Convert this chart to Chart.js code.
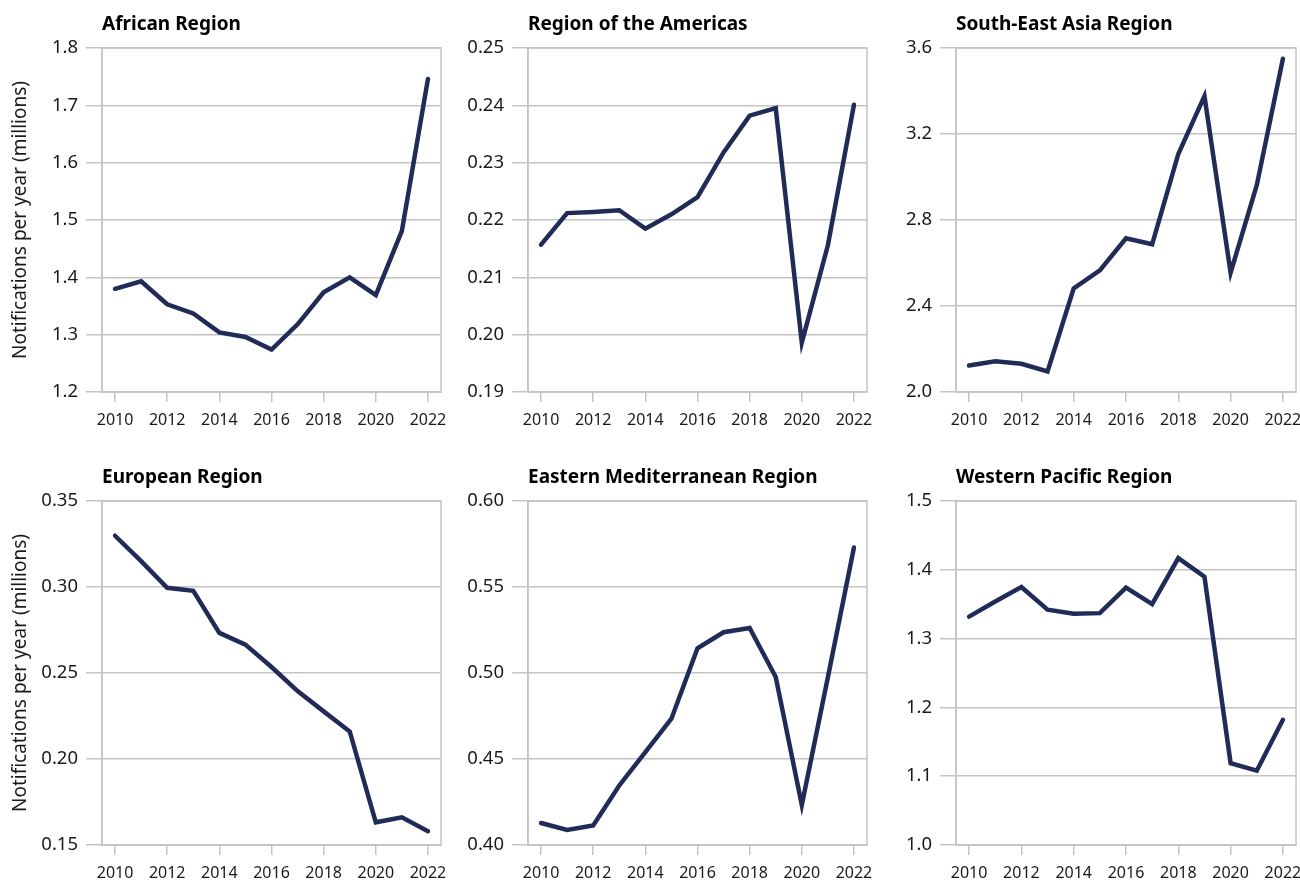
<!DOCTYPE html>
<html>
<head>
<meta charset="utf-8">
<script src="https://cdn.jsdelivr.net/npm/chart.js@4.4.1/dist/chart.umd.min.js"></script>
<style>
  html, body { margin: 0; padding: 0; background: #fff; overflow: hidden; }
  body { width: 1300px; height: 882px; position: relative; }
  canvas { position: absolute; }
</style>
</head>
<body>
<canvas id="c0"></canvas>
<canvas id="c1"></canvas>
<canvas id="c2"></canvas>
<canvas id="c3"></canvas>
<canvas id="c4"></canvas>
<canvas id="c5"></canvas>
<script>
// data (millions of notifications per year)
const years = [2010, 2011, 2012, 2013, 2014, 2015, 2016, 2017, 2018, 2019, 2020, 2021, 2022];
const xTickLabels = ['2010', '2012', '2014', '2016', '2018', '2020', '2022'];

const africanValues = [1.380, 1.393, 1.353, 1.337, 1.304, 1.296, 1.274, 1.318, 1.374, 1.400, 1.369, 1.481, 1.746];
const americasValues = [0.2157, 0.2212, 0.2214, 0.2217, 0.2185, 0.2210, 0.2240, 0.2318, 0.2382, 0.2395, 0.1986, 0.2156, 0.2401];
const seAsiaValues = [2.123, 2.143, 2.131, 2.096, 2.482, 2.566, 2.715, 2.687, 3.107, 3.376, 2.555, 2.962, 3.550];
const europeanValues = [0.3298, 0.3150, 0.2995, 0.2978, 0.2733, 0.2665, 0.2535, 0.2395, 0.2277, 0.2160, 0.1632, 0.1661, 0.1580];
const eastMedValues = [0.4128, 0.4087, 0.4113, 0.4346, 0.4540, 0.4734, 0.5144, 0.5237, 0.5262, 0.4977, 0.4233, 0.4975, 0.5730];
const westPacValues = [1.332, 1.354, 1.375, 1.342, 1.336, 1.337, 1.374, 1.350, 1.417, 1.390, 1.119, 1.108, 1.182];

const africanTicks = ['1.2', '1.3', '1.4', '1.5', '1.6', '1.7', '1.8'];
const americasTicks = ['0.19', '0.20', '0.21', '0.22', '0.23', '0.24', '0.25'];
const seAsiaTicks = ['2.0', '2.4', '2.8', '3.2', '3.6'];
const europeanTicks = ['0.15', '0.20', '0.25', '0.30', '0.35'];
const eastMedTicks = ['0.40', '0.45', '0.50', '0.55', '0.60'];
const westPacTicks = ['1.0', '1.1', '1.2', '1.3', '1.4', '1.5'];

const regionNames = ['African Region', 'Region of the Americas', 'South-East Asia Region',
  'European Region', 'Eastern Mediterranean Region', 'Western Pacific Region'];
const regionValues = [africanValues, americasValues, seAsiaValues, europeanValues, eastMedValues, westPacValues];
const regionTicks = [africanTicks, americasTicks, seAsiaTicks, europeanTicks, eastMedTicks, westPacTicks];

// layout of the 3x2 grid
const cols = [
  { left: 0, width: 450, axisW: 102, padR: 9 },
  { left: 430, width: 445, axisW: 98, padR: 8 },
  { left: 860, width: 440, axisW: 96, padR: 4 }
];
const rows = [{ top: 0 }, { top: 453 }];
const panelH = 440;

const lineColor = '#212b58';
const gridColor = '#c4c4c4';
const textColor = '#1a1a1a';
const family = "'Noto Sans', sans-serif";

// right/top edge of the plot frame
const framePlugin = {
  id: 'frame',
  beforeDatasetsDraw(chart) {
    const { ctx, chartArea: a } = chart;
    ctx.save();
    ctx.strokeStyle = gridColor;
    ctx.lineWidth = 1.5;
    ctx.strokeRect(a.left, a.top, a.right - a.left, a.bottom - a.top);
    ctx.restore();
  }
};

regionNames.forEach((name, i) => {
  const col = cols[i % 3];
  const row = rows[Math.floor(i / 3)];
  const ticks = regionTicks[i];
  const values = regionValues[i];

  const canvas = document.getElementById('c' + i);
  canvas.width = col.width;
  canvas.height = panelH;
  canvas.style.left = col.left + 'px';
  canvas.style.top = row.top + 'px';
  canvas.style.width = col.width + 'px';
  canvas.style.height = panelH + 'px';

  new Chart(canvas, {
    type: 'line',
    data: {
      datasets: [{
        data: years.map((yr, k) => ({ x: yr, y: values[k] })),
        borderColor: lineColor,
        borderWidth: 4.5,
        borderCapStyle: 'round',
        pointRadius: 0,
        tension: 0,
        fill: false
      }]
    },
    options: {
      responsive: false,
      animation: false,
      devicePixelRatio: 1,
      layout: { padding: { left: 0, right: col.padR, top: 0, bottom: 0 } },
      plugins: {
        legend: { display: false },
        tooltip: { enabled: false },
        title: {
          display: true,
          text: name,
          align: 'start',
          fullSize: false,
          color: '#000',
          font: { family: family, size: 19, weight: 'bold' },
          padding: { top: 13, bottom: 12.2 }
        }
      },
      scales: {
        x: {
          type: 'linear',
          min: 2009.5,
          max: 2022.5,
          afterBuildTicks: s => { s.ticks = xTickLabels.map(t => ({ value: Number(t) })); },
          afterFit: s => { s.height = 48; s.paddingLeft = 0; s.paddingRight = 0; },
          grid: { drawOnChartArea: false, color: gridColor, lineWidth: 1.5, tickLength: 10 },
          border: { color: gridColor, width: 1.5 },
          ticks: {
            padding: 8.4,
            autoSkip: false,
            maxRotation: 0,
            color: textColor,
            font: { family: family, size: 16 },
            callback: (v, k) => xTickLabels[k]
          }
        },
        y: {
          min: parseFloat(ticks[0]),
          max: parseFloat(ticks[ticks.length - 1]),
          afterBuildTicks: s => { s.ticks = ticks.map(t => ({ value: parseFloat(t) })); },
          afterFit: s => { s.width = col.axisW; s.paddingTop = 0; s.paddingBottom = 0; },
          grid: { color: gridColor, lineWidth: 1.5, tickLength: 16 },
          border: { color: gridColor, width: 1.5 },
          ticks: {
            padding: 8,
            color: textColor,
            font: { family: family, size: 18.5 },
            callback: (v, k) => ticks[k]
          },
          title: {
            display: i % 3 === 0,
            text: 'Notifications per year (millions)',
            color: textColor,
            font: { family: family, size: 19 },
            padding: { top: 9.6, bottom: 0 }
          }
        }
      }
    },
    plugins: [framePlugin]
  });
});
</script>
</body>
</html>
